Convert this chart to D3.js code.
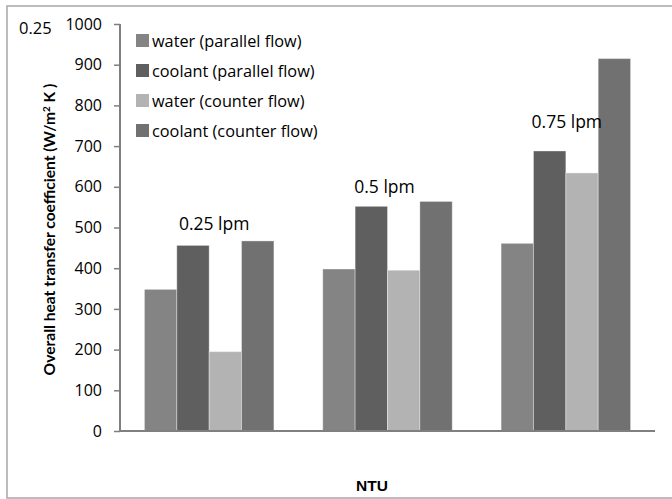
<!DOCTYPE html>
<html>
<head>
<meta charset="utf-8">
<script src="https://cdn.jsdelivr.net/npm/d3@7"></script>
<style>
  html, body { margin: 0; padding: 0; background: #fff; }
  svg { display: block; }
</style>
</head>
<body>
<svg id="chart" width="672" height="499"></svg>
<script>
// Flow-rate groups along the x axis
const groups = ["0.25 lpm", "0.5 lpm", "0.75 lpm"];
// Series shown in each group
const series = [
  "water (parallel flow)",
  "coolant (parallel flow)",
  "water (counter flow)",
  "coolant (counter flow)"
];
// Overall heat transfer coefficient, W/m²K, one array per series (by group)
const waterParallel   = [348, 398, 461];
const coolantParallel = [456, 552, 688];
const waterCounter    = [195, 395, 634];
const coolantCounter  = [467, 564, 915];
// Level (in axis units) at which each group's flow-rate note sits
const groupNoteLevels = [508, 600, 760];
// Y axis ticks
const yTicks = [0, 100, 200, 300, 400, 500, 600, 700, 800, 900, 1000];
const colors = ["#848484", "#5f5f5f", "#b3b3b3", "#717171"];

const values = [waterParallel, coolantParallel, waterCounter, coolantCounter];
const rows = groups.map((g, gi) => ({
  group: g,
  bars: series.map((s, si) => ({ series: s, si, value: values[si][gi] }))
}));

const svg = d3.select("#chart");
const plot = { left: 120, right: 655, top: 24, bottom: 431 };

// outer chart frame (cut off on the right)
svg.append("path")
  .attr("d", "M 680 6 H 7 V 498 H 680")
  .attr("fill", "none")
  .attr("stroke", "#a6a6a6")
  .attr("stroke-width", 1.5);

const x0 = d3.scaleBand().domain(groups).range([plot.left, plot.right]).padding(0);
const x1 = d3.scaleBand().domain(series).range([0, x0.bandwidth()])
  .paddingInner(0).paddingOuter(0.755);
const y = d3.scaleLinear().domain([0, 1000]).range([plot.bottom, plot.top]);

// bars
const g = svg.append("g");
g.selectAll("g.grp").data(rows).join("g")
  .attr("class", "grp")
  .attr("transform", d => `translate(${x0(d.group)},0)`)
  .selectAll("rect").data(d => d.bars).join("rect")
  .attr("x", d => x1(d.series))
  .attr("width", x1.bandwidth())
  .attr("y", d => y(d.value))
  .attr("height", d => y(0) - y(d.value))
  .attr("fill", d => colors[d.si])
  .attr("stroke", "rgba(255,255,255,0.35)")
  .attr("stroke-width", 1);

// y axis
const yAxis = d3.axisLeft(y).tickValues(yTicks).tickSize(6).tickPadding(12).tickFormat(d3.format("d"));
const ya = svg.append("g").attr("transform", `translate(${plot.left},0)`).call(yAxis);
ya.select(".domain").attr("stroke", "#7f7f7f").attr("stroke-width", 2)
  .attr("d", `M0,${plot.top}V${plot.bottom}`);
ya.selectAll(".tick line").attr("stroke", "#7f7f7f").attr("stroke-width", 1.5);
ya.selectAll(".tick text")
  .attr("font-family", "'Open Sans', sans-serif")
  .attr("font-size", 16)
  .attr("fill", "#000");

// x axis baseline
const xAxis = d3.axisBottom(x0).tickSize(0).tickFormat("");
const xa = svg.append("g").attr("transform", `translate(0,${plot.bottom})`).call(xAxis);
xa.select(".domain").attr("stroke", "#7f7f7f").attr("stroke-width", 2)
  .attr("d", `M${plot.left - 1},0H${plot.right}`);

// stray category label at the top of the value axis
svg.append("text")
  .attr("x", 19).attr("y", 28).attr("dy", "0.35em")
  .attr("font-family", "'Open Sans', sans-serif")
  .attr("font-size", 16.5)
  .text("0.25");

// flow-rate notes above each group
svg.selectAll("text.note").data(groups).join("text")
  .attr("class", "note")
  .attr("x", (d, i) => x0(d) + x0.bandwidth() / 2 + [5, -3, 1][i])
  .attr("y", (d, i) => y(groupNoteLevels[i]))
  .attr("dy", "0.35em")
  .attr("text-anchor", "middle")
  .attr("font-family", "'Open Sans', sans-serif")
  .attr("font-size", 17.5)
  .text(d => d);

// legend
const legend = svg.append("g").attr("transform", "translate(136,40)");
const li = legend.selectAll("g").data(series).join("g")
  .attr("transform", (d, i) => `translate(0,${i * 30})`);
li.append("rect").attr("x", 0).attr("y", -6).attr("width", 13).attr("height", 13)
  .attr("fill", (d, i) => colors[i]);
li.append("text").attr("x", 16).attr("y", 1).attr("dy", "0.35em")
  .attr("font-family", "'Open Sans', sans-serif")
  .attr("font-size", 16.3)
  .text(d => d);

// axis titles
svg.append("text")
  .attr("transform", `translate(55,${(82 + 377) / 2}) rotate(-90)`)
  .attr("text-anchor", "middle")
  .attr("font-family", "Lato, sans-serif")
  .attr("font-weight", "bold")
  .attr("font-size", 15.6)
  .html("Overall heat transfer coefficient (W/m<tspan dy='-5' font-size='10'>2</tspan><tspan dy='5'> K )</tspan>");

svg.append("text")
  .attr("x", 372).attr("y", 491)
  .attr("text-anchor", "middle")
  .attr("font-family", "'Liberation Sans', Arial, sans-serif")
  .attr("font-weight", "bold")
  .attr("font-size", 15.5)
  .text("NTU");
</script>
</body>
</html>
